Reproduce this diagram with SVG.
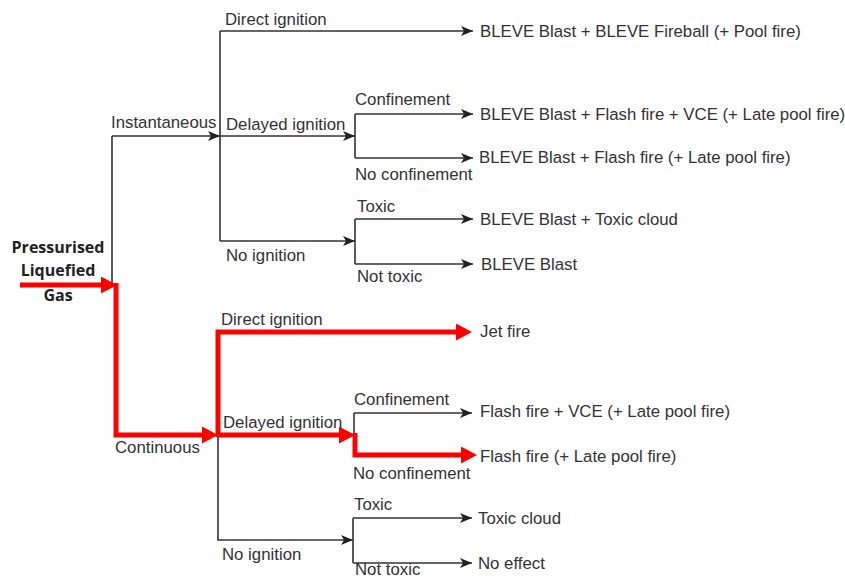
<svg xmlns="http://www.w3.org/2000/svg" width="845" height="580" viewBox="0 0 845 580">
<style>
text{font-family:"Liberation Sans",Arial,sans-serif;font-size:16.8px;fill:#333}
.title{font-family:"Open Sans","Liberation Sans",sans-serif;font-weight:700;font-size:16px;fill:#222;text-anchor:middle}
.k{fill:none;stroke:#333;stroke-width:1.6}
.ka{fill:none;stroke:#333;stroke-width:1.6;marker-end:url(#ah)}
.ra{fill:none;stroke:#f00;stroke-width:5;stroke-linejoin:miter;marker-end:url(#rh)}
</style>
<defs>
<marker id="ah" viewBox="0 0 12 10" refX="12" refY="5" markerWidth="12" markerHeight="10" markerUnits="userSpaceOnUse" orient="auto">
<path d="M0,0 L12,5 L0,10 L3,5 Z" fill="#222"/>
</marker>
<marker id="rh" viewBox="0 0 16 17" refX="6" refY="8.5" markerWidth="16" markerHeight="17" markerUnits="userSpaceOnUse" orient="auto">
<path d="M0,0 L16,8.5 L0,17 Z" fill="#f00"/>
</marker>
</defs>
<rect width="845" height="580" fill="#fff"/>

<g id="connectors">
<!-- black top tree -->
<path class="k" d="M112,136 V285"/>
<path class="ka" d="M112,136 H220"/>
<path class="k" d="M220,31 V241"/>
<path class="ka" d="M220,31 H473"/>
<path class="ka" d="M220,136 H355"/>
<path class="k" d="M355,114 V158"/>
<path class="ka" d="M355,114 H473"/>
<path class="ka" d="M355,158 H473"/>
<path class="ka" d="M220,241 H355"/>
<path class="k" d="M355,219 V264"/>
<path class="ka" d="M355,219 H473"/>
<path class="ka" d="M355,264 H473"/>
<!-- black bottom tree -->
<path class="ka" d="M218,435 V540 H353"/>
<path class="k" d="M354,413 V455"/>
<path class="ka" d="M354,413 H472"/>
<path class="k" d="M353,518 V563"/>
<path class="ka" d="M353,518 H472"/>
<path class="ka" d="M353,563 H472"/>
<!-- red highlighted path -->
<path class="ra" d="M20,285 H107"/>
<path class="ra" d="M116,283 V435 H208"/>
<path class="ra" d="M218,437 V332 H462"/>
<path class="ra" d="M218,435 H345"/>
<path class="ra" d="M355,433 V455 H467"/>
</g>

<g id="root">
<text class="title" x="58" y="253">Pressurised</text>
<text class="title" x="58" y="276">Liquefied</text>
<text class="title" x="58" y="301">Gas</text>
</g>

<g id="instantaneous"><text x="111" y="128">Instantaneous</text></g>
<g id="inst-direct"><text x="225" y="25">Direct ignition</text></g>
<g id="inst-delayed"><text x="226" y="130">Delayed ignition</text></g>
<g id="inst-conf"><text x="355" y="105">Confinement</text></g>
<g id="inst-noconf"><text x="355" y="180">No confinement</text></g>
<g id="inst-noign"><text x="226" y="261">No ignition</text></g>
<g id="inst-toxic"><text x="357" y="212">Toxic</text></g>
<g id="inst-nottoxic"><text x="357" y="282">Not toxic</text></g>

<g id="out1"><text x="480" y="37">BLEVE Blast + BLEVE Fireball (+ Pool fire)</text></g>
<g id="out2"><text x="480" y="120">BLEVE Blast + Flash fire + VCE (+ Late pool fire)</text></g>
<g id="out3"><text x="479" y="163">BLEVE Blast + Flash fire (+ Late pool fire)</text></g>
<g id="out4"><text x="480" y="225">BLEVE Blast + Toxic cloud</text></g>
<g id="out5"><text x="481" y="270">BLEVE Blast</text></g>

<g id="continuous"><text x="115" y="453">Continuous</text></g>
<g id="cont-direct"><text x="221" y="325">Direct ignition</text></g>
<g id="cont-delayed"><text x="223" y="428">Delayed ignition</text></g>
<g id="cont-conf"><text x="354" y="405">Confinement</text></g>
<g id="cont-noconf"><text x="353" y="479">No confinement</text></g>
<g id="cont-noign"><text x="222" y="560">No ignition</text></g>
<g id="cont-toxic"><text x="354" y="510">Toxic</text></g>
<g id="cont-nottoxic"><text x="355" y="575">Not toxic</text></g>

<g id="out6"><text x="480" y="337">Jet fire</text></g>
<g id="out7"><text x="480" y="417">Flash fire + VCE (+ Late pool fire)</text></g>
<g id="out8"><text x="480" y="462">Flash fire (+ Late pool fire)</text></g>
<g id="out9"><text x="478" y="524">Toxic cloud</text></g>
<g id="out10"><text x="478" y="569">No effect</text></g>
</svg>
